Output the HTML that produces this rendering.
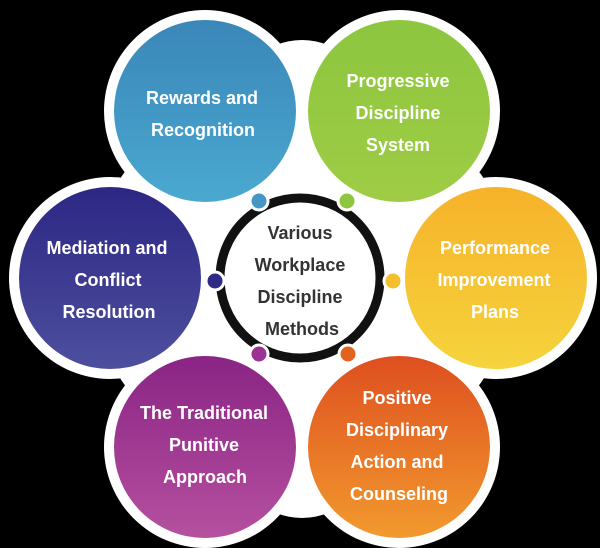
<!DOCTYPE html>
<html><head><style>html,body{margin:0;padding:0;background:#000;}svg{display:block;}</style></head>
<body>
<svg width="600" height="548" viewBox="0 0 600 548" xmlns="http://www.w3.org/2000/svg" font-family="Liberation Sans, sans-serif">
<defs>
<linearGradient id="gb" x1="0" y1="0" x2="0" y2="1"><stop offset="0" stop-color="#3a86b8"/><stop offset="1" stop-color="#4aa9d0"/></linearGradient>
<linearGradient id="gg" x1="0" y1="0" x2="0" y2="1"><stop offset="0" stop-color="#8dc63f"/><stop offset="1" stop-color="#9fcc45"/></linearGradient>
<linearGradient id="gp" x1="0" y1="0" x2="0" y2="1"><stop offset="0" stop-color="#2c2784"/><stop offset="1" stop-color="#4d4f9e"/></linearGradient>
<linearGradient id="gy" x1="0" y1="0" x2="0" y2="1"><stop offset="0" stop-color="#f6b22a"/><stop offset="1" stop-color="#f5d43c"/></linearGradient>
<linearGradient id="gm" x1="0" y1="0" x2="0" y2="1"><stop offset="0" stop-color="#8a2485"/><stop offset="1" stop-color="#b5509f"/></linearGradient>
<linearGradient id="go" x1="0" y1="0" x2="0" y2="1"><stop offset="0" stop-color="#de4f1f"/><stop offset="1" stop-color="#f29a2e"/></linearGradient>
</defs>
<rect width="600" height="548" fill="#000"/>
<g fill="#fff">
<circle cx="205" cy="111" r="101"/><circle cx="399" cy="111" r="101"/>
<circle cx="110" cy="278" r="101"/><circle cx="496" cy="278" r="101"/>
<circle cx="205" cy="447" r="101"/><circle cx="399" cy="447" r="101"/>
<polygon points="205,111 399,111 496,278 399,447 205,447 110,278"/>
<circle cx="302" cy="110" r="70"/><circle cx="302" cy="448" r="70"/>
<circle cx="165" cy="205" r="52"/><circle cx="439" cy="205" r="52"/>
<circle cx="165" cy="352" r="52"/><circle cx="439" cy="352" r="52"/>
</g>
<circle cx="205" cy="111" r="91" fill="url(#gb)"/>
<circle cx="399" cy="111" r="91" fill="url(#gg)"/>
<circle cx="110" cy="278" r="91" fill="url(#gp)"/>
<circle cx="496" cy="278" r="91" fill="url(#gy)"/>
<circle cx="205" cy="447" r="91" fill="url(#gm)"/>
<circle cx="399" cy="447" r="91" fill="url(#go)"/>
<circle cx="300" cy="278" r="88" fill="#fff"/>
<circle cx="300" cy="278" r="80" fill="#fff" stroke="#111" stroke-width="9"/>
<g stroke="#fff" stroke-width="3">
<circle cx="259" cy="201" r="9" fill="#4596c4"/>
<circle cx="347" cy="201" r="9" fill="#8dc63f"/>
<circle cx="215" cy="281" r="9" fill="#2e2a86"/>
<circle cx="393" cy="281" r="9" fill="#f4be2e"/>
<circle cx="259" cy="354" r="9" fill="#9a3394"/>
<circle cx="348" cy="354" r="9" fill="#e2621f"/>
</g>
<g fill="#fff" font-weight="bold" font-size="18" text-anchor="middle">
<text x="202" y="104">Rewards and</text><text x="203" y="136">Recognition</text>
<text x="398" y="87">Progressive</text><text x="398" y="119">Discipline</text><text x="398" y="151">System</text>
<text x="107" y="254">Mediation and</text><text x="108" y="286">Conflict</text><text x="109" y="318">Resolution</text>
<text x="495" y="254">Performance</text><text x="494" y="286">Improvement</text><text x="495" y="318">Plans</text>
<text x="204" y="419">The Traditional</text><text x="204" y="451">Punitive</text><text x="205" y="483">Approach</text>
<text x="397" y="404">Positive</text><text x="397" y="436">Disciplinary</text><text x="397" y="468">Action and</text><text x="399" y="500">Counseling</text>
</g>
<g fill="#333" font-weight="bold" font-size="18" text-anchor="middle">
<text x="300" y="239">Various</text><text x="300" y="271">Workplace</text><text x="300" y="303">Discipline</text><text x="302" y="335">Methods</text>
</g>
</svg>
</body></html>
